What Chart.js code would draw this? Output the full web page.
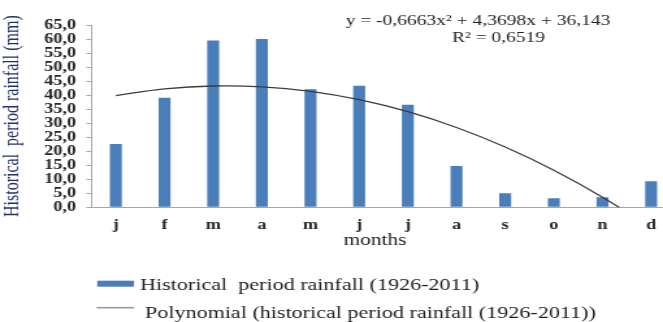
<!DOCTYPE html>
<html>
<head>
<meta charset="utf-8">
<script src="https://cdn.jsdelivr.net/npm/chart.js@4"></script>
<style>
  html, body { margin: 0; padding: 0; background: #ffffff; overflow: hidden; width: 663px; height: 322px; }
  #wrap { position: absolute; left: 0; top: 0; width: 522px; height: 322px; transform: scaleX(1.3); transform-origin: 0 0; }
  canvas { display: block; }
</style>
</head>
<body>
<div id="wrap"><canvas id="rain" width="522" height="322"></canvas></div>
<script>
// Monthly rainfall, historical period 1926-2011
const months = ['j', 'f', 'm', 'a', 'm', 'j', 'j', 'a', 's', 'o', 'n', 'd'];
const rainfall = [22.6, 39.1, 59.5, 60.0, 42.1, 43.3, 36.6, 14.7, 5.0, 3.2, 3.6, 9.3];
// Second-order polynomial trend, evaluated at each month
const polyTrend = [39.85, 42.21, 43.25, 42.96, 41.33, 38.37, 34.08, 28.46, 21.50, 13.22, 3.61, -7.33];
const yTickLabels = ['0,0', '5,0', '10,0', '15,0', '20,0', '25,0', '30,0', '35,0', '40,0', '45,0', '50,0', '55,0', '60,0', '65,0'];
const equationLines = ['y = -0,6663x² + 4,3698x + 36,143', 'R² = 0,6519'];
const seriesLabels = ['Historical  period rainfall (1926-2011)', 'Polynomial (historical period rainfall (1926-2011))'];

const SERIF = "'Liberation Serif', 'Times New Roman', serif";
const BAR_BLUE = '#4A7EBB';
const TREND = '#3c3c3c';
const AXIS = '#a6a6a6';

// Axis title, trendline equation and legend drawn on top of the chart
const annotations = {
  id: 'annotations',
  afterDraw(chart) {
    const ctx = chart.ctx;
    ctx.save();
    ctx.fillStyle = '#1e1e1e';
    ctx.textBaseline = 'alphabetic';

    ctx.font = '16.5px ' + SERIF;
    ctx.textAlign = 'center';
    ctx.fillText('months', 288.5, 245);

    ctx.font = '15px ' + SERIF;
    ctx.textBaseline = 'middle';
    ctx.fillText(equationLines[0], 367.7, 21.5);
    ctx.fillText(equationLines[1], 383.5, 38);

    // legend
    ctx.textAlign = 'left';
    ctx.textBaseline = 'alphabetic';
    ctx.font = '17px ' + SERIF;
    ctx.fillStyle = chart.data.datasets[0].backgroundColor;
    ctx.fillRect(74.8, 280.7, 28.3, 6);
    ctx.fillStyle = '#1e1e1e';
    ctx.fillText(chart.data.datasets[0].label, 107.7, 290);

    ctx.strokeStyle = '#9a9a9a';
    ctx.lineWidth = 1.6;
    ctx.beginPath();
    ctx.moveTo(74.4, 307.7);
    ctx.lineTo(103.1, 307.7);
    ctx.stroke();
    ctx.fillText(chart.data.datasets[1].label, 111.5, 318);
    ctx.restore();
  }
};

new Chart(document.getElementById('rain'), {
  type: 'bar',
  data: {
    labels: months,
    datasets: [
      {
        type: 'bar',
        label: seriesLabels[0],
        data: rainfall,
        backgroundColor: BAR_BLUE,
        borderWidth: 0,
        categoryPercentage: 1.0,
        barPercentage: 0.246,
        order: 2
      },
      {
        type: 'line',
        label: seriesLabels[1],
        data: polyTrend,
        borderColor: TREND,
        borderWidth: 1.3,
        pointRadius: 0,
        tension: 0.4,
        fill: false,
        order: 1
      }
    ]
  },
  options: {
    responsive: false,
    animation: false,
    devicePixelRatio: 1,
    layout: { padding: { top: 25, right: 2.4, bottom: 0, left: 0 } },
    plugins: {
      legend: { display: false },
      tooltip: { enabled: false }
    },
    scales: {
      x: {
        offset: true,
        grid: { display: true, drawOnChartArea: false, drawTicks: false, color: AXIS },
        border: { display: true, color: AXIS, width: 1 },
        ticks: {
          padding: 10,
          autoSkip: false,
          maxRotation: 0,
          color: '#262626',
          font: { family: SERIF, size: 14, weight: 'bold' }
        },
        afterFit(scale) { scale.height = 114.7; }
      },
      y: {
        min: 0,
        max: 65,
        grid: { display: true, drawOnChartArea: false, drawTicks: true, tickLength: 4, color: AXIS },
        border: { display: true, color: AXIS, width: 1 },
        ticks: {
          stepSize: 5,
          autoSkip: false,
          padding: 8,
          color: '#262626',
          font: { family: SERIF, size: 14, weight: 'bold' },
          callback: (v) => yTickLabels[Math.round(v / 5)]
        },
        title: {
          display: true,
          text: 'Historical  period rainfall (mm)',
          color: '#22306a',
          padding: { top: 0, bottom: 0 },
          font: { family: SERIF, size: 16 }
        },
        afterFit(scale) { scale.width = 70.4; }
      }
    }
  },
  plugins: [annotations]
});
</script>
</body>
</html>
